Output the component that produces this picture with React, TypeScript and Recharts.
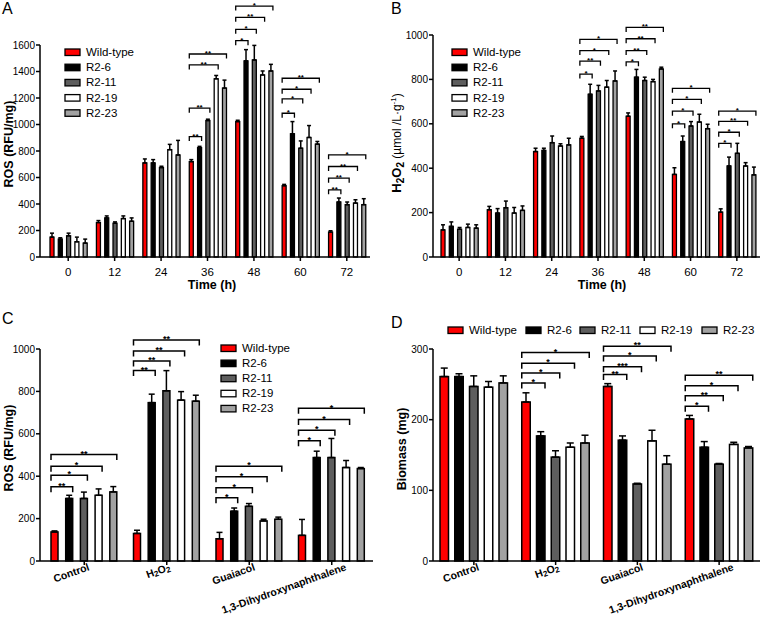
import React from 'react';
import { BarChart, Bar, XAxis, YAxis, ErrorBar } from 'recharts';

const FONT = '"Liberation Sans", Arial, Helvetica, sans-serif';

// ---------- shared ----------
const seriesNames = ['Wild-type', 'R2-6', 'R2-11', 'R2-19', 'R2-23'];
const seriesFill = ['#ff0000', '#000000', '#5e5e5e', '#ffffff', '#a2a2a2'];

// ---------- categories ----------
const timeCats = ['0', '12', '24', '36', '48', '60', '72'];
const treatCats = ['Control', 'H2O2', 'Guaiacol', '1,3-Dihydroxynaphthalene'];

// ---------- axis ticks ----------
const ticksA = [0, 200, 400, 600, 800, 1000, 1200, 1400, 1600];
const ticksB = [0, 200, 400, 600, 800, 1000];
const ticksC = [0, 200, 400, 600, 800, 1000];
const ticksD = [0, 100, 200, 300];

// ---------- Panel A: ROS over time (rows = series: WT, R2-6, R2-11, R2-19, R2-23) ----------
const rosTimeMean = [
  [150, 260, 710, 720, 1022, 538, 188],
  [135, 295, 710, 825, 1480, 930, 415],
  [160, 255, 675, 1030, 1487, 821, 395],
  [115, 290, 810, 1345, 1374, 902, 407],
  [105, 270, 770, 1275, 1404, 852, 395],
];
const rosTimeErr = [
  [30, 15, 30, 15, 10, 10, 10],
  [10, 15, 25, 10, 85, 92, 30],
  [20, 10, 10, 10, 110, 55, 20],
  [35, 20, 40, 25, 30, 90, 25],
  [30, 25, 110, 60, 50, 20, 45],
];
// [category index, compared series index, bracket level, label]
const rosTimeSig: [number, number, number, string][] = [
  [3, 1, 909, '**'], [3, 2, 1123, '**'], [3, 3, 1450, '**'], [3, 4, 1532, '**'],
  [4, 1, 1633, '*'], [4, 2, 1718, '*'], [4, 3, 1809, '**'], [4, 4, 1894, '*'],
  [5, 1, 1085, '*'], [5, 2, 1193, '*'], [5, 3, 1266, '*'], [5, 4, 1349, '**'],
  [6, 1, 507, '**'], [6, 2, 595, '**'], [6, 3, 683, '**'], [6, 4, 771, '*'],
];

// ---------- Panel B: H2O2 over time ----------
const h2o2Mean = [
  [122, 213, 475, 535, 634, 372, 202],
  [138, 198, 480, 733, 810, 520, 410],
  [125, 222, 515, 748, 795, 590, 467],
  [133, 198, 500, 765, 790, 608, 410],
  [130, 210, 505, 793, 847, 578, 370],
];
const h2o2Err = [
  [23, 15, 15, 8, 15, 30, 15],
  [20, 20, 10, 45, 35, 25, 40],
  [8, 30, 30, 25, 15, 20, 45],
  [15, 25, 10, 30, 10, 35, 15],
  [15, 20, 30, 45, 8, 20, 35],
];
const h2o2Sig: [number, number, number, string][] = [
  [3, 1, 824, '*'], [3, 2, 882, '**'], [3, 3, 930, '*'], [3, 4, 980, '*'],
  [4, 1, 879, '*'], [4, 2, 930, '**'], [4, 3, 983, '**'], [4, 4, 1034, '**'],
  [5, 1, 600, '*'], [5, 2, 657, '*'], [5, 3, 710, '*'], [5, 4, 760, '*'],
  [6, 1, 512, '*'], [6, 2, 562, '*'], [6, 3, 611, '**'], [6, 4, 657, '*'],
];

// ---------- Panel C: ROS by treatment ----------
const rosTreatMean = [
  [137, 130, 105, 121],
  [295, 747, 235, 488],
  [295, 803, 258, 488],
  [310, 759, 189, 441],
  [326, 754, 197, 436],
];
const rosTreatErr = [
  [5, 15, 30, 75],
  [15, 40, 15, 30],
  [30, 95, 13, 90],
  [30, 40, 8, 33],
  [25, 28, 10, 5],
];
const rosTreatSig: [number, number, number, string][] = [
  [0, 1, 350, '**'], [0, 2, 405, '*'], [0, 3, 447, '*'], [0, 4, 502, '**'],
  [1, 1, 898, '**'], [1, 2, 943, '**'], [1, 3, 991, '**'], [1, 4, 1043, '**'],
  [2, 1, 298, '*'], [2, 2, 345, '*'], [2, 3, 397, '*'], [2, 4, 447, '*'],
  [3, 1, 567, '*'], [3, 2, 617, '*'], [3, 3, 668, '*'], [3, 4, 720, '*'],
];

// ---------- Panel D: Biomass by treatment ----------
const biomassMean = [
  [261, 225, 247, 201],
  [261, 177, 171, 161],
  [247, 147, 109, 137],
  [246, 161, 170, 165],
  [252, 167, 137, 160],
];
const biomassErr = [
  [12, 13, 4, 5],
  [4, 6, 6, 8],
  [15, 9, 1, 1],
  [8, 6, 15, 3],
  [10, 11, 12, 2],
];
const biomassSig: [number, number, number, string][] = [
  [1, 1, 252, '*'], [1, 2, 266, '*'], [1, 3, 280, '*'], [1, 4, 295, '*'],
  [2, 1, 264, '**'], [2, 2, 275, '***'], [2, 3, 290, '*'], [2, 4, 304, '**'],
  [3, 1, 219, '*'], [3, 2, 234, '**'], [3, 3, 248, '*'], [3, 4, 263, '**'],
];

function buildRows(cats: string[], means: number[][], errs: number[][], sigs: [number, number, number, string][]) {
  return cats.map((c, i) => {
    const row: any = {
      cat: c,
      sig: sigs.filter((s) => s[0] === i).map((s) => [s[1], s[2], s[3]]),
    };
    means.forEach((m, s) => {
      row['s' + s] = m[i];
      row['e' + s] = [0, errs[s][i]];
    });
    return row;
  });
}

function makeShape(sIdx: number, gap: number, sw: number, tickLen: number, starSize: number, brW: number) {
  return (p: any) => {
    const { x, y, width, height, payload } = p;
    const rect = (
      <rect x={x} y={y} width={width} height={height} fill={seriesFill[sIdx]} stroke="#000" strokeWidth={sw} />
    );
    if (sIdx !== 0 || !payload || !payload.sig || payload.sig.length === 0) return rect;
    const base = y + height;
    const k = height / payload.s0;
    return (
      <g>
        {rect}
        {payload.sig.map((b: any, i: number) => {
          const [t, lvl, lab] = b;
          const ly = base - lvl * k;
          const x1 = x;
          const x2 = x + t * (width + gap) + width;
          return (
            <g key={i}>
              <path
                d={`M${x1},${ly + tickLen}V${ly}H${x2}V${ly + tickLen}`}
                fill="none"
                stroke="#000"
                strokeWidth={brW}
              />
              <text
                x={(x1 + x2) / 2}
                y={ly + starSize * 0.25}
                textAnchor="middle"
                fontSize={starSize}
                fontWeight="bold"
                fontFamily={FONT}
                fill="#000"
              >
                {lab}
              </text>
            </g>
          );
        })}
      </g>
    );
  };
}

const RotTick = (p: any) => {
  const { x, y, payload } = p;
  const v = String(payload.value);
  const tx = x + 2 + 0.55 * v.length;
  const ty = y + 3;
  return (
    <text
      x={tx}
      y={ty}
      transform={`rotate(-19.5 ${tx} ${ty})`}
      textAnchor="end"
      fontSize={10.5}
      fontWeight="bold"
      fontFamily={FONT}
      fill="#000"
    >
      {v === 'H2O2' ? (
        <>
          <tspan>H</tspan>
          <tspan fontSize={8} dy={1.5}>2</tspan>
          <tspan dy={-1.5}>O</tspan>
          <tspan fontSize={8} dy={1.5}>2</tspan>
        </>
      ) : (
        v
      )}
    </text>
  );
};

type PanelProps = {
  left: number;
  top: number;
  w: number;
  h: number;
  margin: { top: number; right: number; bottom: number; left: number };
  yWidth: number;
  xHeight: number;
  padLeft: number;
  cats: string[];
  means: number[][];
  errs: number[][];
  sigs: [number, number, number, string][];
  ymax: number;
  ticks: number[];
  barSize: number;
  gap: number;
  sw: number;
  cap: number;
  tickLen: number;
  starSize: number;
  rotated: boolean;
};

function Panel(pp: PanelProps) {
  const rows = buildRows(pp.cats, pp.means, pp.errs, pp.sigs);
  return (
    <div style={{ position: 'absolute', left: pp.left, top: pp.top }}>
      <BarChart width={pp.w} height={pp.h} data={rows} margin={pp.margin} barGap={pp.gap}>
        <XAxis
          dataKey="cat"
          interval={0}
          height={pp.xHeight}
          padding={{ left: pp.padLeft, right: 0 }}
          axisLine={{ stroke: '#000', strokeWidth: 1.5 }}
          tickLine={{ stroke: '#000', strokeWidth: 1.5 }}
          tickSize={4}
          tickMargin={pp.rotated ? 2 : 7}
          tick={pp.rotated ? (p: any) => <RotTick {...p} /> : { fontSize: 11.5, fill: '#000', fontFamily: FONT }}
        />
        <YAxis
          type="number"
          domain={[0, pp.ymax]}
          ticks={pp.ticks}
          interval={0}
          width={pp.yWidth}
          axisLine={{ stroke: '#000', strokeWidth: 1.5 }}
          tickLine={{ stroke: '#000', strokeWidth: 1.5 }}
          tickSize={4}
          tickMargin={1}
          tick={{ fontSize: 10, fill: '#000', fontFamily: FONT }}
        />
        {seriesNames.map((n, s) => (
          <Bar
            key={n}
            dataKey={'s' + s}
            name={n}
            barSize={pp.barSize}
            fill={seriesFill[s]}
            stroke="#000"
            isAnimationActive={false}
            shape={makeShape(s, pp.gap, pp.sw, pp.tickLen, pp.starSize, pp.sw)}
          >
            <ErrorBar
              dataKey={'e' + s}
              width={pp.cap}
              stroke="#000"
              strokeWidth={1.5}
              direction="y"
              isAnimationActive={false}
            />
          </Bar>
        ))}
      </BarChart>
    </div>
  );
}

function LegendV({ x, y, pitch }: { x: number; y: number; pitch: number }) {
  return (
    <g>
      {seriesNames.map((n, i) => (
        <g key={n}>
          <rect x={x} y={y + i * pitch - 3} width={15} height={6.5} fill={seriesFill[i]} stroke="#000" strokeWidth={1.3} />
          <text x={x + 21} y={y + i * pitch + 4} fontSize={11.5} fontFamily={FONT} fill="#000">
            {n}
          </text>
        </g>
      ))}
    </g>
  );
}

const legendDX = [448, 526, 580, 640, 702];

function LegendH({ y }: { y: number }) {
  return (
    <g>
      {seriesNames.map((n, i) => (
        <g key={n}>
          <rect x={legendDX[i]} y={y - 3} width={15} height={6.5} fill={seriesFill[i]} stroke="#000" strokeWidth={1.3} />
          <text x={legendDX[i] + 21} y={y + 4} fontSize={11.5} fontFamily={FONT} fill="#000">
            {n}
          </text>
        </g>
      ))}
    </g>
  );
}

export default function App() {
  return (
    <div
      style={{
        position: 'absolute',
        left: 0,
        top: 0,
        width: 760,
        height: 621,
        background: '#fff',
        fontFamily: FONT,
        overflow: 'hidden',
      }}
    >
      <Panel
        left={0}
        top={0}
        w={380}
        h={310}
        margin={{ top: 45, right: 10, bottom: 23, left: 0 }}
        yWidth={40}
        xHeight={30}
        padLeft={5}
        cats={timeCats}
        means={rosTimeMean}
        errs={rosTimeErr}
        sigs={rosTimeSig}
        ymax={1600}
        ticks={ticksA}
        barSize={4}
        gap={4.3}
        sw={1.3}
        cap={2}
        tickLen={4.5}
        starSize={8}
        rotated={false}
      />
      <Panel
        left={380}
        top={0}
        w={380}
        h={310}
        margin={{ top: 35, right: 0, bottom: 23, left: 0 }}
        yWidth={53}
        xHeight={30}
        padLeft={3}
        cats={timeCats}
        means={h2o2Mean}
        errs={h2o2Err}
        sigs={h2o2Sig}
        ymax={1000}
        ticks={ticksB}
        barSize={4}
        gap={4.3}
        sw={1.3}
        cap={2}
        tickLen={4.5}
        starSize={8}
        rotated={false}
      />
      <Panel
        left={0}
        top={310}
        w={380}
        h={311}
        margin={{ top: 39, right: 7, bottom: 0, left: 0 }}
        yWidth={40}
        xHeight={60}
        padLeft={3}
        cats={treatCats}
        means={rosTreatMean}
        errs={rosTreatErr}
        sigs={rosTreatSig}
        ymax={1000}
        ticks={ticksC}
        barSize={7}
        gap={7.7}
        sw={1.5}
        cap={3}
        tickLen={5.5}
        starSize={9}
        rotated={true}
      />
      <Panel
        left={380}
        top={310}
        w={380}
        h={311}
        margin={{ top: 39, right: 0, bottom: 0, left: 0 }}
        yWidth={53}
        xHeight={60}
        padLeft={0}
        cats={treatCats}
        means={biomassMean}
        errs={biomassErr}
        sigs={biomassSig}
        ymax={300}
        ticks={ticksD}
        barSize={8.5}
        gap={6.25}
        sw={1.5}
        cap={3.5}
        tickLen={5.5}
        starSize={9}
        rotated={true}
      />
      <svg
        width={760}
        height={621}
        style={{ position: 'absolute', left: 0, top: 0, pointerEvents: 'none' }}
      >
        {/* panel letters */}
        <text x={2} y={14} fontSize={16} fontFamily={FONT} fill="#000">A</text>
        <text x={391} y={14} fontSize={16} fontFamily={FONT} fill="#000">B</text>
        <text x={2} y={324} fontSize={16} fontFamily={FONT} fill="#000">C</text>
        <text x={391} y={328} fontSize={16} fontFamily={FONT} fill="#000">D</text>

        {/* axis titles */}
        <text transform="translate(13,144) rotate(-90)" textAnchor="middle" fontSize={12.5} fontWeight="bold" fontFamily={FONT} fill="#000">
          ROS (RFU/mg)
        </text>
        <text x={212} y={289} textAnchor="middle" fontSize={12.5} fontWeight="bold" fontFamily={FONT} fill="#000">
          Time (h)
        </text>
        <text transform="translate(401,143) rotate(-90)" textAnchor="middle" fontSize={12} fontFamily={FONT} fill="#000">
          <tspan fontWeight="bold" fontSize={13}>H</tspan>
          <tspan fontWeight="bold" fontSize={10} dy={3}>2</tspan>
          <tspan fontWeight="bold" fontSize={13} dy={-3}>O</tspan>
          <tspan fontWeight="bold" fontSize={10} dy={3}>2</tspan>
          <tspan dy={-3}> (µmol /L·g</tspan>
          <tspan fontSize={8} dy={-5}>-1</tspan>
          <tspan dy={5}>)</tspan>
        </text>
        <text x={602} y={289} textAnchor="middle" fontSize={12.5} fontWeight="bold" fontFamily={FONT} fill="#000">
          Time (h)
        </text>
        <text transform="translate(13,448) rotate(-90)" textAnchor="middle" fontSize={12.5} fontWeight="bold" fontFamily={FONT} fill="#000">
          ROS (RFU/mg)
        </text>
        <text transform="translate(406,449) rotate(-90)" textAnchor="middle" fontSize={12.5} fontWeight="bold" fontFamily={FONT} fill="#000">
          Biomass (mg)
        </text>

        {/* legends */}
        <LegendV x={65} y={52} pitch={15.2} />
        <LegendV x={452} y={52} pitch={15.2} />
        <LegendV x={221} y={348} pitch={15.1} />
        <LegendH y={330} />
      </svg>
    </div>
  );
}
